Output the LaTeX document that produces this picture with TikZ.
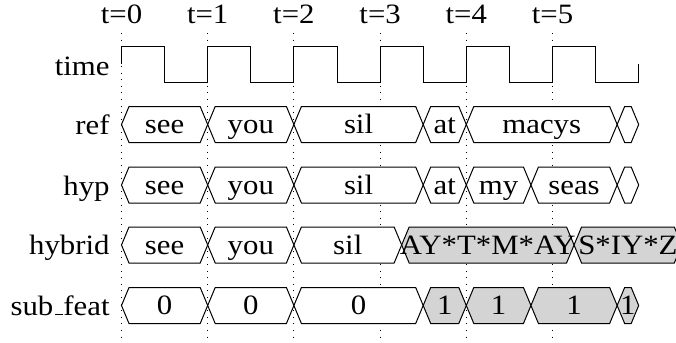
\documentclass[tikz,border=0pt]{standalone}
\usepackage{fontspec}
\setmainfont{Liberation Serif}[FakeStretch=1.1]
\definecolor{segfill}{gray}{0.83}
% one bus segment: name, row centre, start time, end time, style, label
\newcommand\hexseg[6]{%
  \draw[#5] ({tx(#3)},#2) -- ({tx(#3)+7.5},{#2-18}) -- ({tx(#4)-7.5},{#2-18})
    -- ({tx(#4)},#2) -- ({tx(#4)-7.5},{#2+18}) -- ({tx(#3)+7.5},{#2+18}) -- cycle;
  \node[txt] (#1) at ({(tx(#3)+tx(#4))/2},{#2+9}) {#6};
}
% an unlabelled bus segment
\newcommand\hexgap[4]{%
  \draw[#4] ({tx(#2)},#1) -- ({tx(#2)+7.5},{#1-18}) -- ({tx(#3)-7.5},{#1-18})
    -- ({tx(#3)},#1) -- ({tx(#3)-7.5},{#1+18}) -- ({tx(#2)+7.5},{#1+18}) -- cycle;
}
\begin{document}
\begin{tikzpicture}[x=0.5pt,y=-0.5pt,
  declare function={tx(\t)=121.5+86.2*\t;},
  wave/.style={line width=0.5pt, line join=miter},
  busw/.style={wave, fill=white},
  busg/.style={wave, fill=segfill},
  gridline/.style={line width=0.5pt, dash pattern=on 0.5pt off 2.8pt},
  txt/.style={anchor=base, inner sep=0pt, font=\fontsize{14}{16}\selectfont},
  rowlabel/.style={txt, anchor=base east},
]
\useasboundingbox (0,0) rectangle (676,343);
\clip (0,0) rectangle (676,343);

% time grid and tick labels
\foreach \k in {0,...,5} {
  \draw[gridline] ({tx(\k)},33) -- ({tx(\k)},343);
  \node[txt] (t\k) at ({tx(\k)},23.5) {t=\k};
}

% row labels
\node[rowlabel] (lbl-time) at (110,75) {time};
\node[rowlabel] (lbl-ref) at (110,134.5) {ref};
\node[rowlabel] (lbl-hyp) at (110,195) {hyp};
\node[rowlabel] (lbl-hybrid) at (110,254.5) {hybrid};
\node[rowlabel] (lbl-sub) at (110,315) {sub\kern.06em\rule{.3em}{.45pt}feat};

% clock
\draw[wave] ({tx(0)},64)
  foreach \k in {0,...,5} { -- ({tx(\k)},46) -- ({tx(\k+0.5)},46)
    -- ({tx(\k+0.5)},82) -- ({tx(\k+1)},82) }
  -- ({tx(6)},64);

% ref
\hexseg{ref1}{124.5}{0}{1}{busw}{see}
\hexseg{ref2}{124.5}{1}{2}{busw}{you}
\hexseg{ref3}{124.5}{2}{3.5}{busw}{sil}
\hexseg{ref4}{124.5}{3.5}{4}{busw}{at}
\hexseg{ref5}{124.5}{4}{5.75}{busw}{macys}
\hexgap{124.5}{5.75}{6}{busw}

% hyp
\hexseg{hyp1}{185}{0}{1}{busw}{see}
\hexseg{hyp2}{185}{1}{2}{busw}{you}
\hexseg{hyp3}{185}{2}{3.5}{busw}{sil}
\hexseg{hyp4}{185}{3.5}{4}{busw}{at}
\hexseg{hyp5}{185}{4}{4.75}{busw}{my}
\hexseg{hyp6}{185}{4.75}{5.75}{busw}{seas}
\hexgap{185}{5.75}{6}{busw}

% hybrid
\hexseg{hyb1}{245}{0}{1}{busw}{see}
\hexseg{hyb2}{245}{1}{2}{busw}{you}
\hexseg{hyb3}{245}{2}{3.25}{busw}{sil}
\hexseg{hyb4}{245}{3.25}{5.25}{busg}{AY*T*M*AY}
\hexseg{hyb5}{245}{5.25}{6.5}{busg}{S*IY*Z}

% sub_feat
\hexseg{sub1}{305.5}{0}{1}{busw}{0}
\hexseg{sub2}{305.5}{1}{2}{busw}{0}
\hexseg{sub3}{305.5}{2}{3.5}{busw}{0}
\hexseg{sub4}{305.5}{3.5}{4}{busg}{1}
\hexseg{sub5}{305.5}{4}{4.75}{busg}{1}
\hexseg{sub6}{305.5}{4.75}{5.75}{busg}{1}
\hexseg{sub7}{305.5}{5.75}{6}{busg}{1}
\end{tikzpicture}
\end{document}
